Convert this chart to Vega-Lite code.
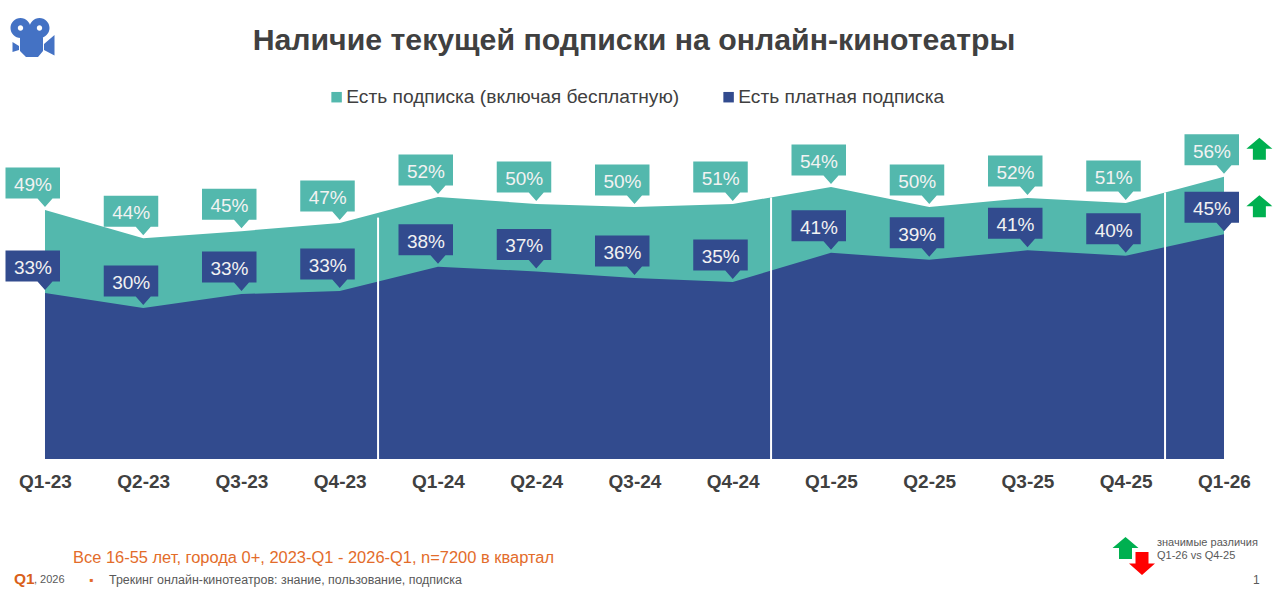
{
  "$schema": "https://vega.github.io/schema/vega-lite/v6.json",
  "width": 1280,
  "height": 387,
  "autosize": {"type": "none"},
  "padding": {"left": 0, "top": 72, "right": 0, "bottom": 136},
  "background": "white",
  "config": {
    "view": {"stroke": null},
    "font": "Liberation Sans"
  },
  "title": {
    "text": "Наличие текущей подписки на онлайн-кинотеатры",
    "font": "Liberation Sans",
    "fontSize": 30.25,
    "fontWeight": "bold",
    "color": "#404040",
    "anchor": "middle",
    "frame": "group",
    "dx": -6,
    "dy": 56,
    "offset": 18
  },
  "datasets": {
    "main": [
      {"idx": 0, "series": "Есть подписка (включая бесплатную)", "value": 49.5, "label": "49%"},
      {"idx": 1, "series": "Есть подписка (включая бесплатную)", "value": 43.9, "label": "44%"},
      {"idx": 2, "series": "Есть подписка (включая бесплатную)", "value": 45.3, "label": "45%"},
      {"idx": 3, "series": "Есть подписка (включая бесплатную)", "value": 46.9, "label": "47%"},
      {"idx": 4, "series": "Есть подписка (включая бесплатную)", "value": 52.1, "label": "52%"},
      {"idx": 5, "series": "Есть подписка (включая бесплатную)", "value": 50.7, "label": "50%"},
      {"idx": 6, "series": "Есть подписка (включая бесплатную)", "value": 50.1, "label": "50%"},
      {"idx": 7, "series": "Есть подписка (включая бесплатную)", "value": 50.7, "label": "51%"},
      {"idx": 8, "series": "Есть подписка (включая бесплатную)", "value": 54.1, "label": "54%"},
      {"idx": 9, "series": "Есть подписка (включая бесплатную)", "value": 50.1, "label": "50%"},
      {"idx": 10, "series": "Есть подписка (включая бесплатную)", "value": 51.9, "label": "52%"},
      {"idx": 11, "series": "Есть подписка (включая бесплатную)", "value": 50.9, "label": "51%"},
      {"idx": 12, "series": "Есть подписка (включая бесплатную)", "value": 56.1, "label": "56%"},
      {"idx": 0, "series": "Есть платная подписка", "value": 33.0, "label": "33%"},
      {"idx": 1, "series": "Есть платная подписка", "value": 30.0, "label": "30%"},
      {"idx": 2, "series": "Есть платная подписка", "value": 32.8, "label": "33%"},
      {"idx": 3, "series": "Есть платная подписка", "value": 33.4, "label": "33%"},
      {"idx": 4, "series": "Есть платная подписка", "value": 38.2, "label": "38%"},
      {"idx": 5, "series": "Есть платная подписка", "value": 37.3, "label": "37%"},
      {"idx": 6, "series": "Есть платная подписка", "value": 36.0, "label": "36%"},
      {"idx": 7, "series": "Есть платная подписка", "value": 35.2, "label": "35%"},
      {"idx": 8, "series": "Есть платная подписка", "value": 41.0, "label": "41%"},
      {"idx": 9, "series": "Есть платная подписка", "value": 39.6, "label": "39%"},
      {"idx": 10, "series": "Есть платная подписка", "value": 41.5, "label": "41%"},
      {"idx": 11, "series": "Есть платная подписка", "value": 40.4, "label": "40%"},
      {"idx": 12, "series": "Есть платная подписка", "value": 44.7, "label": "45%"}
    ]
  },
  "data": {"name": "main"},
  "encoding": {
    "x": {
      "field": "idx",
      "type": "quantitative",
      "scale": {"domain": [-0.458, 12.57], "nice": false, "zero": false},
      "axis": {
        "title": null,
        "values": [0, 1, 2, 3, 4, 5, 6, 7, 8, 9, 10, 11, 12],
        "labelExpr": "'Q' + (datum.value % 4 + 1) + '-' + (23 + floor(datum.value / 4))",
        "labelFontSize": 19,
        "labelFontWeight": "bold",
        "labelColor": "#404040",
        "labelPadding": 13,
        "labelOverlap": false,
        "labelFlush": false,
        "domain": false,
        "ticks": false,
        "grid": false
      }
    },
    "y": {
      "field": "value",
      "type": "quantitative",
      "stack": null,
      "scale": {"domain": [0, 76.94], "nice": false},
      "axis": null
    }
  },
  "layer": [
    {
      "mark": {"type": "area", "opacity": 1},
      "encoding": {
        "color": {
          "field": "series",
          "type": "nominal",
          "scale": {
            "domain": ["Есть подписка (включая бесплатную)", "Есть платная подписка"],
            "range": ["#53b8ad", "#324b8e"]
          },
          "legend": {
            "title": null,
            "orient": "none",
            "legendX": 327,
            "legendY": 15.5,
            "direction": "horizontal",
            "symbolType": "square",
            "symbolSize": 110,
            "labelFontSize": 19.2,
            "labelColor": "#404040",
            "labelOffset": 0,
            "labelLimit": 400,
            "columnPadding": 39
          }
        }
      }
    },
    {
      "data": {"values": [{"idx": 3.39, "base": 0, "top": 48}, {"idx": 7.39, "base": 0, "top": 52}, {"idx": 11.4, "base": 0, "top": 53}]},
      "mark": {"type": "rule", "color": "white", "strokeWidth": 2},
      "encoding": {
        "y": {"field": "top", "type": "quantitative"},
        "y2": {"field": "base"}
      }
    },
    {
      "mark": {
        "type": "point",
        "shape": "M-39.5,-42.5L15,-42.5L15,-11.5L7.5,-11.5L0,-3L-7.5,-11.5L-39.5,-11.5Z",
        "size": 4,
        "filled": true,
        "opacity": 1,
        "strokeWidth": 0
      },
      "encoding": {
        "color": {"field": "series", "type": "nominal", "legend": null}
      }
    },
    {
      "mark": {"type": "text", "dx": -12, "dy": -25, "fontSize": 19, "color": "#f2f2f2", "baseline": "middle"},
      "encoding": {
        "text": {"field": "label"}
      }
    },
    {
      "data": {"values": [{"idx": 12.36, "value": 56.1}, {"idx": 12.36, "value": 44.7}]},
      "mark": {
        "type": "point",
        "shape": "M0,-39L13,-28L6.5,-28L6.5,-17L-6.5,-17L-6.5,-28L-13,-28Z",
        "size": 4,
        "filled": true,
        "opacity": 1,
        "strokeWidth": 0,
        "color": "#00b050"
      }
    },
    {
      "data": {"values": [{"logo": "camera"}]},
      "mark": {
        "type": "point",
        "x": 33,
        "y": -32,
        "size": 4,
        "filled": true,
        "opacity": 1,
        "strokeWidth": 0,
        "color": "#4472c4",
        "shape": "M-22.5,-12A10,10 0 1 1 -2.5,-12A10,10 0 1 1 -22.5,-12ZM-15.2,-12A2.7,2.7 0 1 0 -9.8,-12A2.7,2.7 0 1 0 -15.2,-12ZM-3.5,-12A10,10 0 1 1 16.5,-12A10,10 0 1 1 -3.5,-12ZM3.8,-12A2.7,2.7 0 1 0 9.2,-12A2.7,2.7 0 1 0 3.8,-12ZM-13,-6L-3,-12L10,-6L10,11L5,17L-7,17L-13,11ZM-20.5,2L-14,6L-14,10L-20.5,12ZM11,4L21.5,-5L21.5,15.5L11,10Z"
      },
      "encoding": {"x": null, "y": null}
    },
    {
      "data": {"values": [{"kind": "up"}]},
      "mark": {
        "type": "point",
        "x": 1125.5,
        "y": 476,
        "shape": "M0,-11L13,0L6.5,0L6.5,11L-6.5,11L-6.5,0L-13,0Z",
        "size": 4,
        "filled": true,
        "opacity": 1,
        "strokeWidth": 0,
        "color": "#00b050"
      },
      "encoding": {"x": null, "y": null}
    },
    {
      "data": {"values": [{"kind": "down"}]},
      "mark": {
        "type": "point",
        "x": 1142,
        "y": 491.5,
        "shape": "M0,11.5L13,0L6.5,0L6.5,-11.5L-6.5,-11.5L-6.5,0L-13,0Z",
        "size": 4,
        "filled": true,
        "opacity": 1,
        "strokeWidth": 0,
        "color": "#ff0000"
      },
      "encoding": {"x": null, "y": null}
    },
    {
      "data": {"values": [{"t": "Все 16-55 лет, города 0+, 2023-Q1 - 2026-Q1, n=7200 в квартал"}]},
      "mark": {"type": "text", "x": 73, "y": 486, "align": "left", "fontSize": 16.45, "color": "#e36c2a"},
      "encoding": {"x": null, "y": null, "text": {"field": "t"}}
    },
    {
      "data": {"values": [{"t": "Q1"}]},
      "mark": {"type": "text", "x": 14, "y": 507, "align": "left", "fontSize": 15.5, "fontWeight": "bold", "color": "#d9601a"},
      "encoding": {"x": null, "y": null, "text": {"field": "t"}}
    },
    {
      "data": {"values": [{"t": ", 2026"}]},
      "mark": {"type": "text", "x": 34, "y": 508, "align": "left", "fontSize": 11, "color": "#595959"},
      "encoding": {"x": null, "y": null, "text": {"field": "t"}}
    },
    {
      "data": {"values": [{"t": "▪"}]},
      "mark": {"type": "text", "x": 89, "y": 508, "align": "left", "fontSize": 12, "color": "#e36c2a"},
      "encoding": {"x": null, "y": null, "text": {"field": "t"}}
    },
    {
      "data": {"values": [{"t": "Трекинг онлайн-кинотеатров: знание, пользование, подписка"}]},
      "mark": {"type": "text", "x": 109, "y": 508, "align": "left", "fontSize": 12.45, "color": "#595959"},
      "encoding": {"x": null, "y": null, "text": {"field": "t"}}
    },
    {
      "data": {"values": [{"t": "значимые различия"}]},
      "mark": {"type": "text", "x": 1157, "y": 471, "align": "left", "fontSize": 11, "color": "#595959"},
      "encoding": {"x": null, "y": null, "text": {"field": "t"}}
    },
    {
      "data": {"values": [{"t": "Q1-26 vs Q4-25"}]},
      "mark": {"type": "text", "x": 1157, "y": 484, "align": "left", "fontSize": 11, "color": "#595959"},
      "encoding": {"x": null, "y": null, "text": {"field": "t"}}
    },
    {
      "data": {"values": [{"t": "1"}]},
      "mark": {"type": "text", "x": 1253, "y": 508, "align": "left", "fontSize": 12, "color": "#595959"},
      "encoding": {"x": null, "y": null, "text": {"field": "t"}}
    }
  ]
}
